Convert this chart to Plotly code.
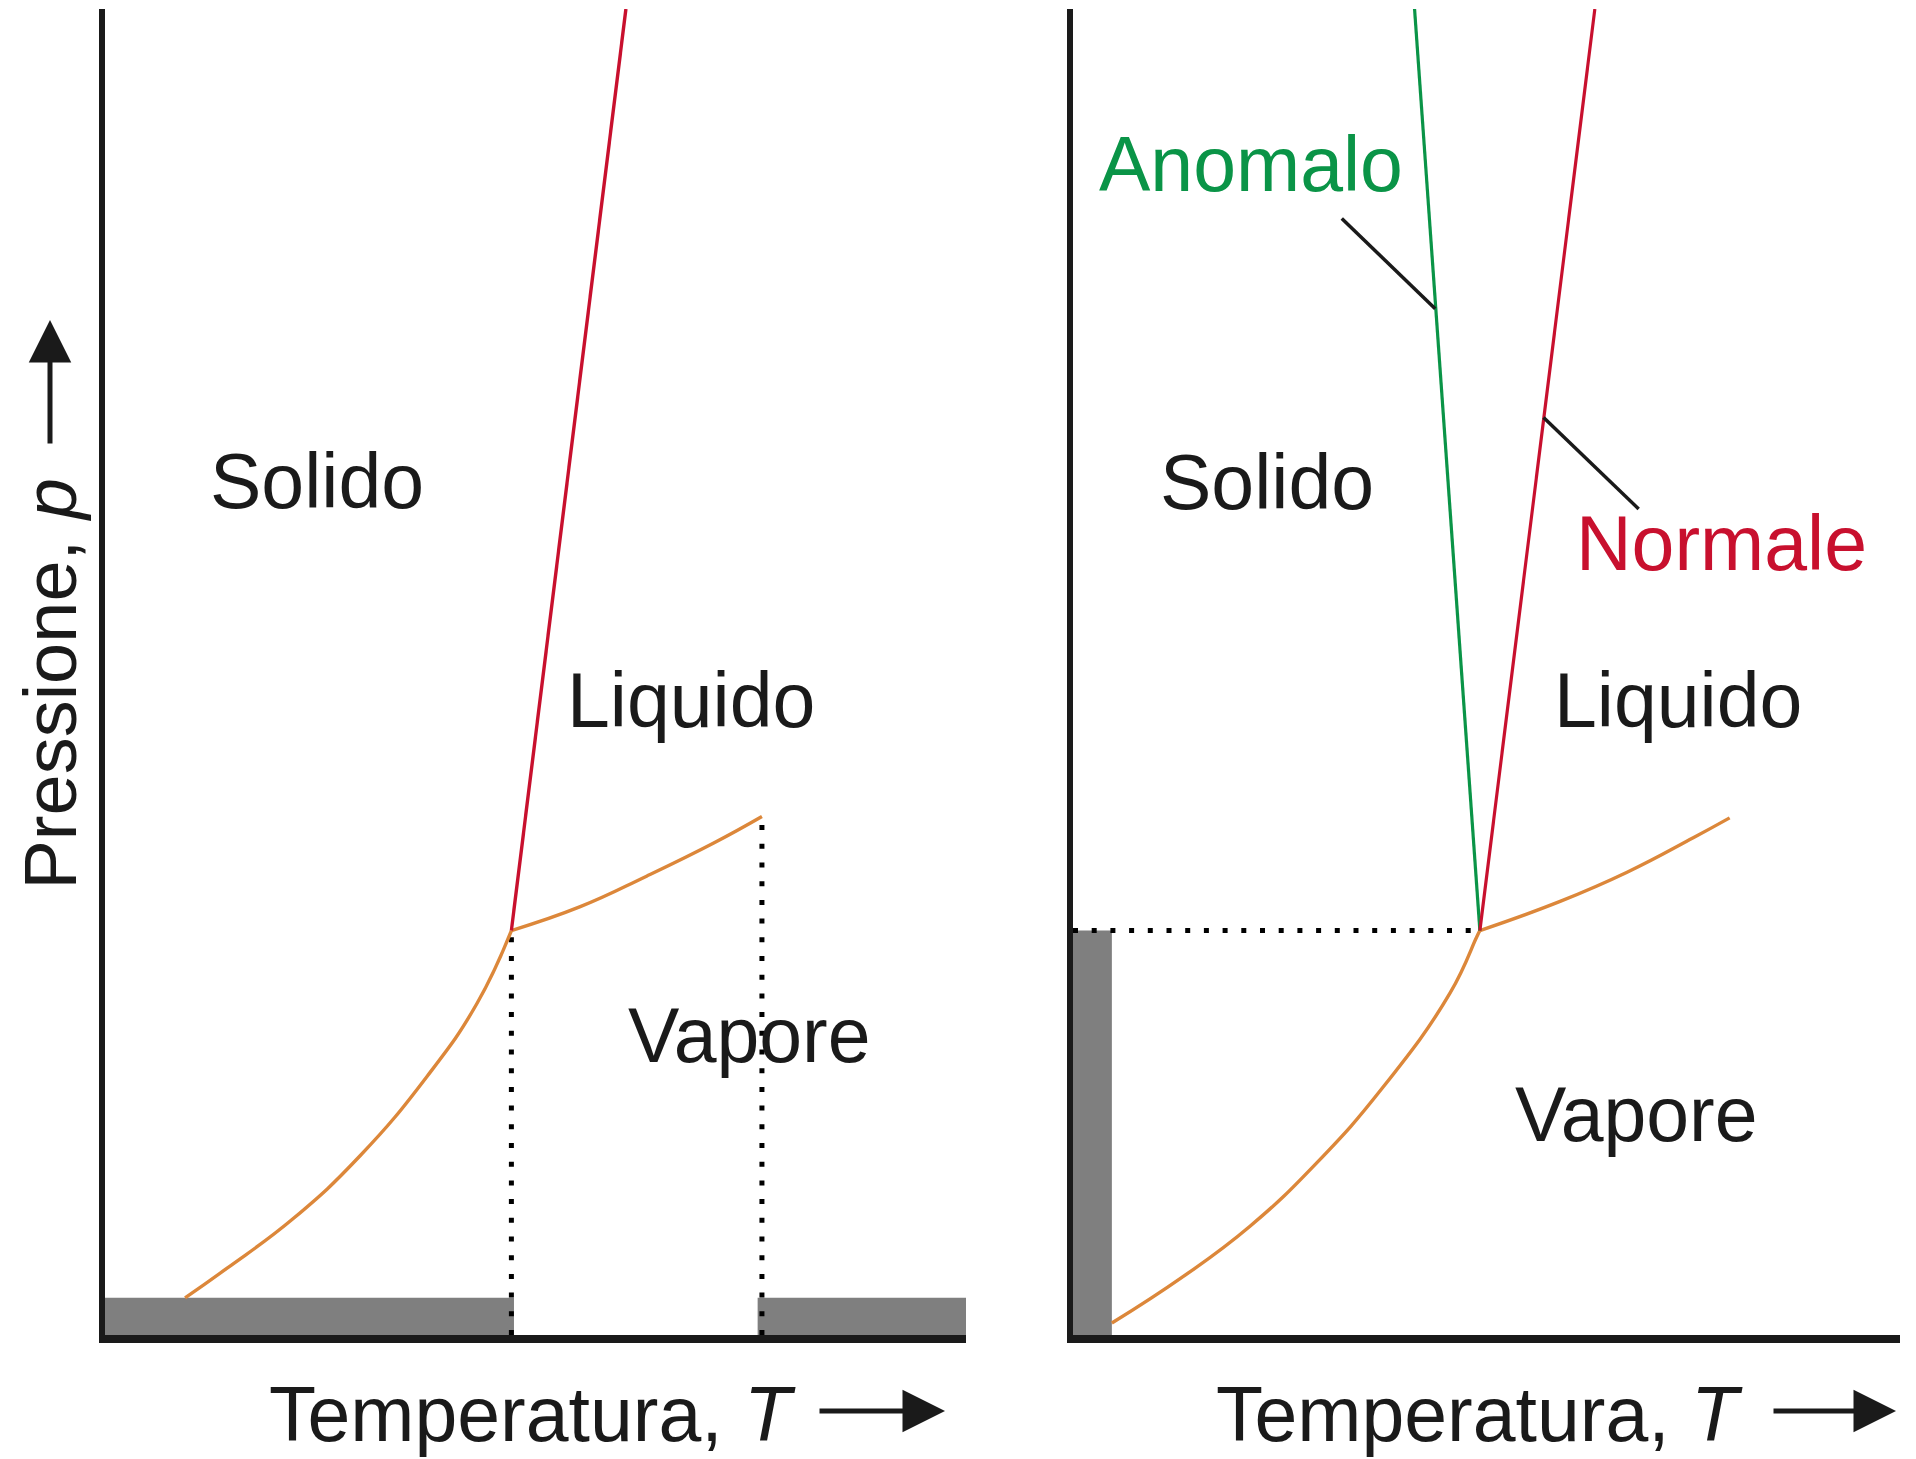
import plotly.graph_objects as go

W, H = 1916, 1459
OFF = 8  # margine predefinito del <body> nella pagina html

# --- dati (unità arbitrarie, 0-100 su entrambi gli assi) ---
# pannello sinistro: sostanza "normale"
T_triplo_sx, p_triplo_sx = 47.2, 30.5
T_sub_sx = [9.3, 14.1, 21.9, 29.6, 37.4, 43.2, 47.2]
p_sub_sx = [2.8, 5.0, 8.8, 13.5, 19.5, 25.0, 30.5]
T_eva_sx = [47.2, 55.2, 62.9, 70.7, 76.3]
p_eva_sx = [30.5, 32.3, 34.6, 37.1, 39.1]
T_fus_sx = [47.2, 60.5]
p_fus_sx = [30.5, 100.0]
T_crit_sx = 76.3
barre_T_sx = [(0.0, 47.5), (75.8, 100.0)]
barra_p_sx = 2.8

# pannello destro: confronto anomalo / normale
T_triplo_dx, p_triplo_dx = 49.2, 30.5
T_sub_dx = [4.7, 13.3, 21.4, 29.5, 37.5, 45.6, 48.8, 49.2]
p_sub_dx = [0.9, 4.4, 8.2, 13.0, 18.7, 25.8, 30.0, 30.5]
T_eva_dx = [49.2, 58.9, 67.0, 75.0, 79.4]
p_eva_dx = [30.5, 32.7, 34.9, 37.5, 39.0]
T_norm = [49.2, 63.1]
p_norm = [30.5, 100.0]
T_anom = [49.2, 41.3]
p_anom = [30.5, 100.0]
barra_T_dx = 4.7
T_guida_anom = [32.5, 43.8]
p_guida_anom = [84.2, 77.4]
T_guida_norm = [56.9, 68.4]
p_guida_norm = [69.2, 62.3]

# etichette delle fasi: (testo, T, p)
fasi_sx = [("Solido", 24.6, 64.4), ("Liquido", 68.1, 47.9), ("Vapore", 74.9, 22.6)]
fasi_dx = [("Solido", 23.5, 64.3), ("Liquido", 73.1, 47.9), ("Vapore", 68.1, 16.7)]

ARANCIO = "#dc873a"
ROSSO = "#c8102e"
VERDE = "#0a9447"
NERO = "#1a1a1a"
GRIGIO = "#7f7f7f"
FONT = "Liberation Sans, Arial, sans-serif"
FS = 77


def px(x):
    return (x - OFF) / (W - OFF)


def py(y):
    return 1 - (y - OFF) / (H - OFF)


fig = go.Figure()

# linee punteggiate (sotto le curve)
dot = dict(color="black", width=5, dash="5px,13.7px")
fig.add_trace(go.Scatter(x=[T_triplo_sx, T_triplo_sx], y=[0, p_triplo_sx], mode="lines",
                         line=dot, xaxis="x", yaxis="y"))
fig.add_trace(go.Scatter(x=[T_crit_sx, T_crit_sx], y=[0, p_eva_sx[-1]], mode="lines",
                         line=dot, xaxis="x", yaxis="y"))
fig.add_trace(go.Scatter(x=[0, T_triplo_dx], y=[p_triplo_dx, p_triplo_dx], mode="lines",
                         line=dot, xaxis="x2", yaxis="y2"))

curva = dict(color=ARANCIO, width=3.4, shape="spline", smoothing=1.3)

# --- pannello sinistro ---
fig.add_trace(go.Scatter(x=T_sub_sx, y=p_sub_sx, mode="lines", line=curva, xaxis="x", yaxis="y"))
fig.add_trace(go.Scatter(x=T_eva_sx, y=p_eva_sx, mode="lines", line=curva, xaxis="x", yaxis="y"))
fig.add_trace(go.Scatter(x=T_fus_sx, y=p_fus_sx, mode="lines",
                         line=dict(color=ROSSO, width=3.4), xaxis="x", yaxis="y"))

# --- pannello destro ---
fig.add_trace(go.Scatter(x=T_sub_dx, y=p_sub_dx, mode="lines", line=curva, xaxis="x2", yaxis="y2"))
fig.add_trace(go.Scatter(x=T_eva_dx, y=p_eva_dx, mode="lines", line=curva, xaxis="x2", yaxis="y2"))
fig.add_trace(go.Scatter(x=T_anom, y=p_anom, mode="lines",
                         line=dict(color=VERDE, width=3.2), xaxis="x2", yaxis="y2"))
fig.add_trace(go.Scatter(x=T_norm, y=p_norm, mode="lines",
                         line=dict(color=ROSSO, width=3.2), xaxis="x2", yaxis="y2"))
fig.add_trace(go.Scatter(x=T_guida_anom, y=p_guida_anom, mode="lines",
                         line=dict(color=NERO, width=3.5), xaxis="x2", yaxis="y2"))
fig.add_trace(go.Scatter(x=T_guida_norm, y=p_guida_norm, mode="lines",
                         line=dict(color=NERO, width=3.5), xaxis="x2", yaxis="y2"))

# barre grigie
shapes = []
for t0, t1 in barre_T_sx:
    shapes.append(dict(type="rect", xref="x", yref="y", x0=t0, x1=t1, y0=0, y1=barra_p_sx,
                       fillcolor=GRIGIO, line_width=0, layer="below"))
shapes.append(dict(type="rect", xref="x2", yref="y2", x0=0, x1=barra_T_dx, y0=0, y1=p_triplo_dx,
                   fillcolor=GRIGIO, line_width=0, layer="below"))

ann = []
for testo, t, p in fasi_sx:
    ann.append(dict(text=testo, x=t, y=p, xref="x", yref="y", showarrow=False,
                    font=dict(size=FS, color=NERO)))
for testo, t, p in fasi_dx:
    ann.append(dict(text=testo, x=t, y=p, xref="x2", yref="y2", showarrow=False,
                    font=dict(size=FS, color=NERO)))
ann.append(dict(text="Anomalo", x=21.5, y=88.3, xref="x2", yref="y2", showarrow=False,
                font=dict(size=FS, color=VERDE)))
ann.append(dict(text="Normale", x=78.4, y=59.7, xref="x2", yref="y2", showarrow=False,
                font=dict(size=FS, color=ROSSO)))

# titoli degli assi con frecce
freccia = dict(showarrow=True, arrowhead=2, arrowwidth=5, arrowsize=1.7, arrowcolor=NERO,
               xref="paper", yref="paper", text="")
for x_dx, x0a, x1a in [(798, 818, 945), (1745, 1772, 1896)]:
    ann.append(dict(text="Temperatura, <i>T</i>", x=px(x_dx), y=py(1414), xref="paper", yref="paper",
                    xanchor="right", yanchor="middle", showarrow=False,
                    font=dict(size=FS, color=NERO)))
    ann.append(dict(freccia, x=px(x1a), y=py(1411), ax=-(x1a - x0a), ay=0))
ann.append(dict(text="Pressione, <i>p</i>", x=px(50), y=py(892), xref="paper", yref="paper",
                xanchor="center", yanchor="bottom", textangle=-90, showarrow=False,
                font=dict(size=74, color=NERO)))
ann.append(dict(freccia, x=px(50), y=py(320), ax=0, ay=125))

asse = dict(showline=True, linecolor=NERO, showgrid=False, zeroline=False,
            showticklabels=False, ticks="", fixedrange=True)
fig.update_layout(
    width=W - OFF, height=H - OFF, margin=dict(l=0, r=0, t=0, b=0),
    paper_bgcolor="white", plot_bgcolor="white",
    showlegend=False, font=dict(family=FONT),
    xaxis=dict(asse, domain=[px(105), px(966)], range=[0, 100], linewidth=8, anchor="y"),
    yaxis=dict(asse, domain=[py(1335), py(9)], range=[0, 100], linewidth=6, anchor="x"),
    xaxis2=dict(asse, domain=[px(1073), px(1900)], range=[0, 100], linewidth=8, anchor="y2"),
    yaxis2=dict(asse, domain=[py(1335), py(9)], range=[0, 100], linewidth=6, anchor="x2"),
    shapes=shapes, annotations=ann,
)

fig.write_html("out.html")
